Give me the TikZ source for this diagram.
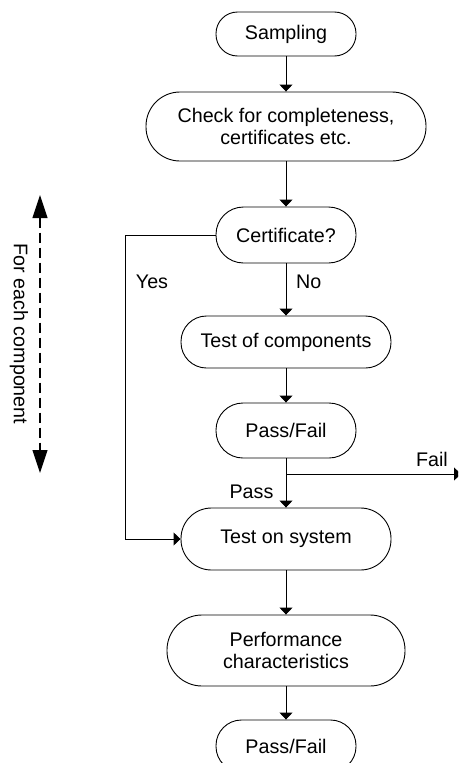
\documentclass[tikz,border=0pt]{standalone}
\usepackage{fontspec}
\setmainfont{Liberation Sans}
\usetikzlibrary{arrows.meta}
\begin{document}
\begin{tikzpicture}[x=1pt,y=-1pt,
  every node/.style={font=\fontsize{19.7}{22.5}\selectfont},
  term/.style={draw, line width=0.9pt, rectangle, inner sep=0pt, align=center},
  arr/.style={line width=0.9pt, -{Triangle[width=13pt,length=7pt]}},
  plain/.style={line width=0.9pt},
  lbl/.style={inner sep=0pt}]
\useasboundingbox (0,0) rectangle (458,763);
\begin{scope}
\clip (0,0) rectangle (458,763);
\node[term, minimum width=140pt, minimum height=44pt, rounded corners=21.5pt] (samp) at (286,34) {Sampling};
\node[term, minimum width=280pt, minimum height=69pt, rounded corners=34pt] (check) at (286,126.5) {Check for completeness,\\certificates etc.};
\node[term, minimum width=140pt, minimum height=56pt, rounded corners=27.5pt] (cert) at (286,235) {Certificate?};
\node[term, minimum width=210pt, minimum height=52pt, rounded corners=25.5pt] (tcomp) at (286,342) {Test of components};
\node[term, minimum width=140pt, minimum height=55pt, rounded corners=27pt] (pf1) at (286,430.5) {Pass/Fail};
\node[term, minimum width=210pt, minimum height=62pt, rounded corners=30.5pt] (tsys) at (286,539) {Test on system};
\node[term, minimum width=238pt, minimum height=71pt, rounded corners=35pt] (perf) at (286,650.5) {Performance\\characteristics};
\node[term, minimum width=140pt, minimum height=52pt, rounded corners=25.5pt] (pf2) at (286,746) {Pass/Fail};

\draw[arr] (samp) -- (check);
\draw[arr] (check) -- (cert);
\draw[arr] (cert) -- (tcomp);
\coordinate (yc) at (125,235);
\draw[arr] (cert.west) -- (yc) |- (tsys.west);
\draw[arr] (tcomp) -- (pf1);
\draw[arr] (pf1) -- (tsys);
\coordinate (fb) at (286,474);
\coordinate (fe) at (461,474);
\draw[arr] (fb) -- (fe);
\draw[arr] (tsys) -- (perf);
\draw[arr] (perf) -- (pf2);

\node[lbl] (yes) at (152,282) {Yes};
\node[lbl, anchor=west] (no) at (296,282) {No};
\node[lbl] (pass) at (251.5,492) {Pass};
\node[lbl] (fail) at (432,459) {Fail};

\coordinate (da) at (40,195);
\coordinate (db) at (40,473);
\draw[line width=1.2pt, dash pattern=on 10pt off 5pt, {Triangle[width=15pt,length=23pt]}-{Triangle[width=15pt,length=23pt]}] (da) -- (db);
\node[lbl, rotate=-90] (fec) at (19,334) {For each component};
\end{scope}
\end{tikzpicture}
\end{document}
